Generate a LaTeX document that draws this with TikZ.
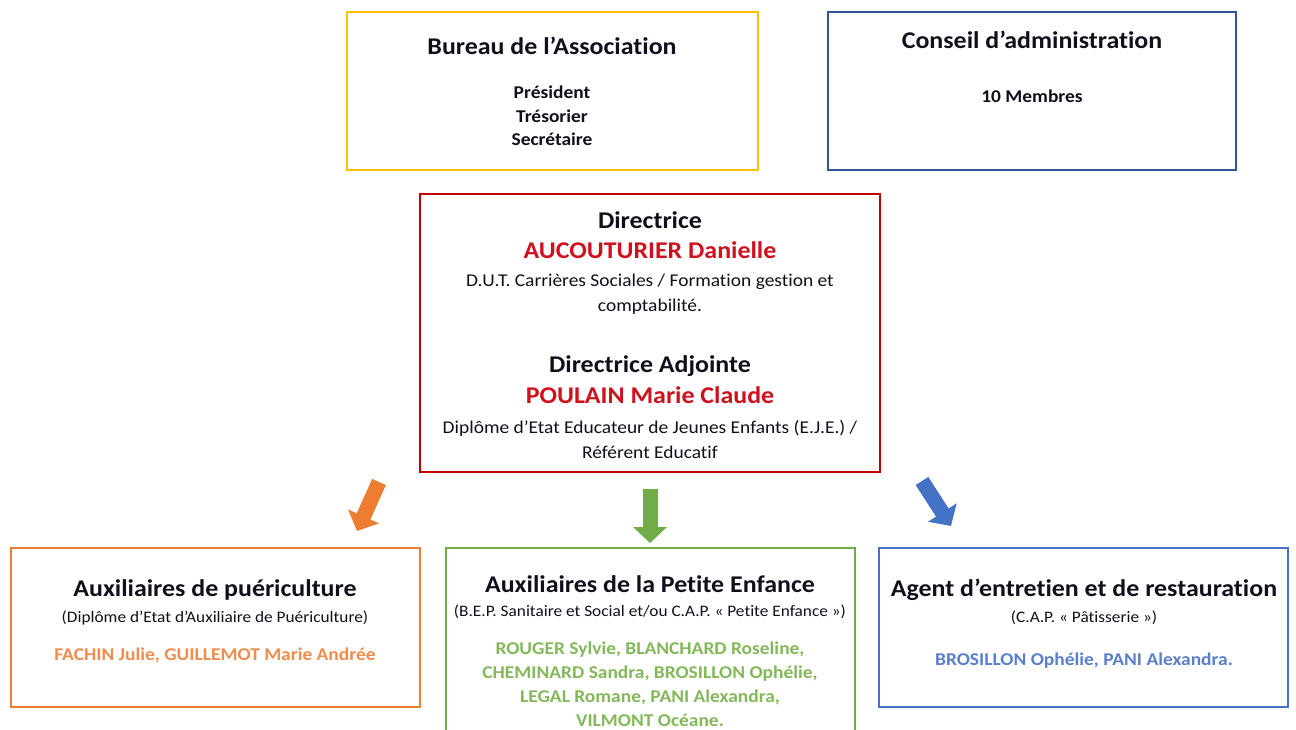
\documentclass[tikz,border=0pt]{standalone}
\usepackage{fontspec}
\setmainfont[FakeStretch=1.08,Ligatures=NoCommon,RawFeature={-liga;-clig;-dlig}]{Carlito}
\usetikzlibrary{arrows.meta}
\definecolor{cyel}{HTML}{FFC000}
\definecolor{cdblue}{HTML}{2F5597}
\definecolor{cred}{HTML}{C00000}
\definecolor{corange}{HTML}{ED7D31}
\definecolor{cgreen}{HTML}{70AD47}
\definecolor{cblue}{HTML}{4472C4}
\definecolor{norange}{HTML}{F08C4E}
\definecolor{ngreen}{HTML}{84B85A}
\definecolor{nblue}{HTML}{5A80CC}
\definecolor{nred}{HTML}{D0101C}
\definecolor{txt}{HTML}{10101C}
\tikzset{
  box/.style={draw=#1, line width=2.6pt, fill=white},
  ttl/.style={font=\fontsize{24}{28}\selectfont\bfseries, text=txt},
  sub/.style={font=\fontsize{18}{23.5}\selectfont\bfseries, align=center, text=txt},
  dipl/.style={font=\fontsize{18}{25}\selectfont, align=center, text=txt},
  small/.style={font=\fontsize{16}{18}\selectfont, text=txt},
  names/.style={font=\fontsize{18}{24}\selectfont\bfseries, align=center},
  bigarrow/.style={line width=15pt, -{Triangle[length=16pt,width=33pt]}},
}
\begin{document}
\begin{tikzpicture}[x=1pt,y=-1pt]
\useasboundingbox[fill=white] (0,0) rectangle (1296,730);
% boxes
\draw[box=cyel] (347,12) rectangle (758,170);
\draw[box=cdblue] (828,12) rectangle (1236,170);
\draw[box=cred] (420,194) rectangle (880,472);
\draw[box=corange] (11,548) rectangle (420,707);
\draw[box=cgreen] (446,548) rectangle (855,740);
\draw[box=cblue] (879,548) rectangle (1288,707);
% Bureau
\node[ttl] (bt) at (552,46) {Bureau de l’Association};
\node[sub] (bl) at (552,116) {Président\\Trésorier\\Secrétaire};
% Conseil
\node[ttl] (ct) at (1032,40) {Conseil d’administration};
\node[sub] (cm) at (1032,96) {10 Membres};
% Directrice
\node[ttl] (d1) at (650,220) {Directrice};
\node[ttl, text=nred] (d2) at (650,250) {AUCOUTURIER Danielle};
\node[dipl] (d3) at (650,294) {D.U.T. Carrières Sociales / Formation gestion et\\comptabilité.};
\node[ttl] (d4) at (650,366) {Directrice Adjointe};
\node[ttl, text=nred] (d5) at (650,395) {POULAIN Marie Claude};
\node[dipl] (d6) at (650,439) {Diplôme d’Etat Educateur de Jeunes Enfants (E.J.E.) /\\Référent Educatif};
% arrows
\coordinate (oa1) at (379,482);
\coordinate (oa2) at (357,531);
\coordinate (ga1) at (650,489);
\coordinate (ga2) at (650,543);
\coordinate (ba1) at (922,481);
\coordinate (ba2) at (951,526);
\draw[bigarrow, corange] (oa1) -- (oa2);
\draw[bigarrow, cgreen] (ga1) -- (ga2);
\draw[bigarrow, cblue] (ba1) -- (ba2);
% Orange box
\node[ttl] (ot) at (215,590) {Auxiliaires de puériculture};
\node[small] (os) at (215,618) {(Diplôme d’Etat d’Auxiliaire de Puériculture)};
\node[names, text=norange] (on) at (215,655) {FACHIN Julie, GUILLEMOT Marie Andrée};
% Green box
\node[ttl] (gt) at (650,584) {Auxiliaires de la Petite Enfance};
\node[small] (gs) at (650,612) {(B.E.P. Sanitaire et Social et/ou C.A.P. « Petite Enfance »)};
\node[names, text=ngreen] (gn) at (650,684) {ROUGER Sylvie, BLANCHARD Roseline,\\CHEMINARD Sandra, BROSILLON Ophélie,\\LEGAL Romane, PANI Alexandra,\\VILMONT Océane.};
% Blue box
\node[ttl] (bt2) at (1084,590) {Agent d’entretien et de restauration};
\node[small] (bs) at (1084,618) {(C.A.P. « Pâtisserie »)};
\node[names, text=nblue] (bn) at (1084,661) {BROSILLON Ophélie, PANI Alexandra.};
\end{tikzpicture}
\end{document}
